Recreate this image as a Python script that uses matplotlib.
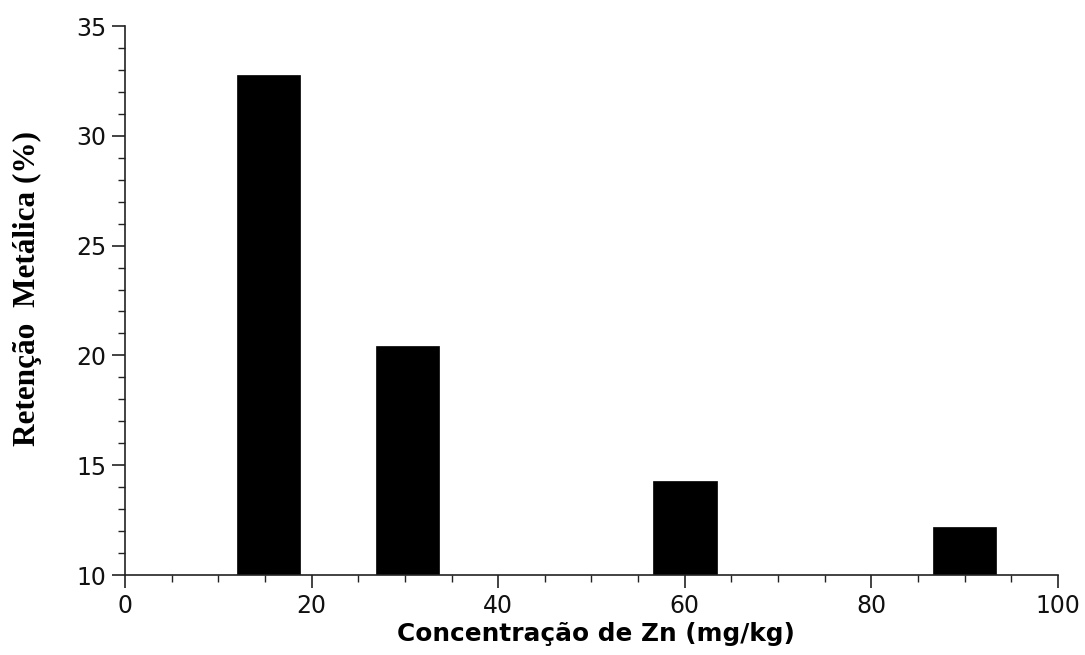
import matplotlib
matplotlib.use("Agg")
import matplotlib.pyplot as plt
from matplotlib.ticker import MultipleLocator

# Zn concentration (mg/kg) and metal retention (%)
concentracao = [15.4, 30.3, 60, 90]
retencao = [32.75, 20.45, 14.3, 12.2]

x_ticks = [0, 20, 40, 60, 80, 100]
y_ticks = [10, 15, 20, 25, 30, 35]

fig = plt.figure(figsize=(10.85, 6.55), dpi=100)
ax = fig.add_axes([0.1152, 0.1221, 0.8599, 0.8382])

ax.bar(concentracao, retencao, width=6.8, bottom=0, color="black",
       edgecolor="black", linewidth=0.5)

ax.set_xlim(0, 100)
ax.set_ylim(10, 35)
ax.set_xticks(x_ticks)
ax.set_yticks(y_ticks)
ax.xaxis.set_minor_locator(MultipleLocator(5))
ax.yaxis.set_minor_locator(MultipleLocator(1))

for s in ("top", "right"):
    ax.spines[s].set_visible(False)
for s in ("left", "bottom"):
    ax.spines[s].set_linewidth(1.2)
    ax.spines[s].set_color("#222222")

ax.tick_params(which="major", direction="out", length=9.4, width=1.2,
               colors="#222222", labelsize=17, labelcolor="#111111", pad=4)
ax.tick_params(which="minor", direction="out", length=5, width=1.0,
               colors="#222222")
for lab in ax.get_xticklabels() + ax.get_yticklabels():
    lab.set_family("DejaVu Sans")

ax.set_xlabel("Concentração de Zn (mg/kg)", fontsize=17.8, fontweight="bold",
              family="DejaVu Sans")
ax.xaxis.set_label_coords(0.505, -0.086)
ax.set_ylabel("Retenção  Metálica (%)", fontsize=22.5, fontweight="bold",
              family="Liberation Serif")
ax.yaxis.set_label_coords(-0.089, 0.521)

fig.savefig("out.png", dpi=100)
